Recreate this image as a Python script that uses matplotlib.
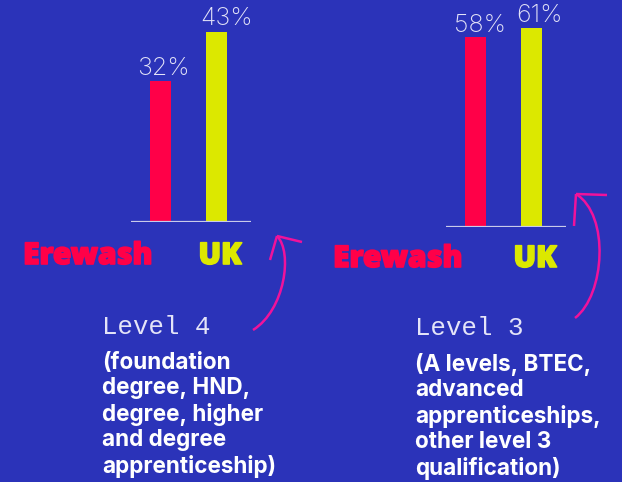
import matplotlib
matplotlib.use("Agg")
import matplotlib.pyplot as plt
from matplotlib.path import Path
from matplotlib.patches import PathPatch
import matplotlib.patheffects as pe

# ---- data ----
categories = ["Erewash", "UK"]
level4_values = [32, 43]
level3_values = [58, 61]
level4_title = "Level 4"
level4_desc = "(foundation\ndegree, HND,\ndegree, higher\nand degree\napprenticeship)"
level3_title = "Level 3"
level3_desc = "(A levels, BTEC,\nadvanced\napprenticeships,\nother level 3\nqualification)"

BG = "#2B33B9"
RED = "#FF0048"
YELLOW = "#DCE800"
PINK = "#F0129B"
LABEL = "#E4E4F8"
BASE = "#C9CBEA"

W, H = 622, 482
fig = plt.figure(figsize=(W / 100, H / 100), dpi=100)
fig.patch.set_facecolor(BG)


def px(x, y):
    return x / W, 1 - y / H


def make_axes(x0, x1, ybase, values, scale, label_off):
    left, bottom = px(x0, ybase)
    ax = fig.add_axes([left, bottom, (x1 - x0) / W, ybase / H])
    ax.set_facecolor("none")
    xs = list(range(len(values)))
    ax.bar(xs, values, width=0.38, color=[RED, YELLOW], zorder=2)
    ax.set_xlim(-0.53, 1.62)
    ax.set_ylim(0, ybase / scale)
    ax.axhline(0, color=BASE, lw=1.6, zorder=3)
    for i, v in enumerate(values):
        ax.annotate(f"{v}%", (i, v), xytext=label_off[i], textcoords="offset points",
                    ha="center", va="baseline", color=LABEL, fontsize=18,
                    family="Inter", fontweight="light", annotation_clip=False)
    ax.axis("off")
    return ax


make_axes(131, 251, 222, level4_values, 4.417, [(2, 4.3), (7.5, 5.0)])
make_axes(446, 566, 226.5, level3_values, 3.26, [(3, 3.6), (6, 4.3)])

# category labels
cat_font = dict(family="Open Sans", fontweight=800, fontsize=21.5, va="center", ha="center")
for (x, y), name, col in [((88, 256), categories[0], RED), ((220, 256), categories[1], YELLOW),
                          ((398, 259), categories[0], RED), ((535, 259), categories[1], YELLOW)]:
    fig.text(*px(x, y), name, color=col,
             path_effects=[pe.withStroke(linewidth=1.2, foreground=col)], **cat_font)

# level titles
lvl_font = dict(family="Liberation Mono", fontsize=18.5, color=LABEL, va="center", ha="left")
fig.text(*px(102, 327), level4_title, **lvl_font)
fig.text(*px(415, 328), level3_title, **lvl_font)

desc_font = dict(family="Inter", fontweight="bold", fontsize=16.2, color="white",
                 va="top", ha="left", linespacing=1.2)
fig.text(*px(102, 352), level4_desc, **desc_font)
fig.text(*px(415, 353), level3_desc, **desc_font)


# decorative arrows
def arrow(points, head1, head2, tip):
    tr = fig.transFigure
    verts = [px(*p) for p in points]
    path = Path(verts, [Path.MOVETO, Path.CURVE4, Path.CURVE4, Path.CURVE4])
    fig.patches.append(PathPatch(path, transform=tr, fc="none", ec=PINK, lw=1.8))
    for h in (head1, head2):
        hp = Path([px(*tip), px(*h)], [Path.MOVETO, Path.LINETO])
        fig.patches.append(PathPatch(hp, transform=tr, fc="none", ec=PINK, lw=1.8))


arrow([(253, 330), (285, 310), (293, 252), (277, 236)], (302, 242), (270, 260), (277, 236))
arrow([(575, 318), (605, 295), (610, 215), (576, 194)], (607, 195), (574, 226), (576, 194))

fig.savefig("out.png", dpi=100, facecolor=BG)
